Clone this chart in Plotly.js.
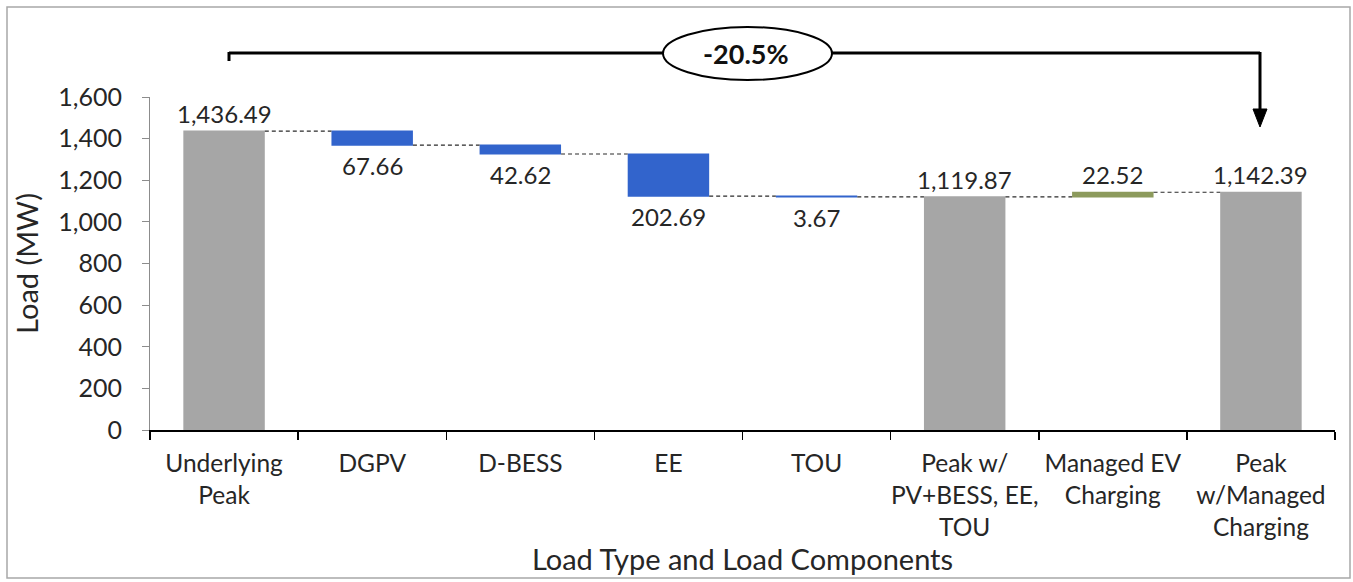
<!DOCTYPE html>
<html>
<head>
<meta charset="utf-8">
<script src="https://cdn.plot.ly/plotly-3.0.1.min.js"></script>
<style>html,body{margin:0;padding:0;background:#fff;}#chart{width:1353px;height:582px;}</style>
</head>
<body>
<div id="chart"></div>
<script>
// ---- data ----
const categories = ["Underlying<br>Peak", "DGPV", "D-BESS", "EE", "TOU", "Peak w/<br>PV+BESS, EE,<br>TOU", "Managed EV<br>Charging", "Peak<br>w/Managed<br>Charging"];
const measures = ["absolute", "relative", "relative", "relative", "relative", "absolute", "relative", "absolute"];
const values = [1436.49, -67.66, -42.62, -202.69, -3.67, 1119.87, 22.52, 1142.39];
const yTicks = [0, 200, 400, 600, 800, 1000, 1200, 1400, 1600];
const changeLabel = "-20.5%";

const FONT = "Lato, 'Open Sans', sans-serif";
const TXT = "#262626";

function fmt(v) {
  return Math.abs(v).toLocaleString('en-US', {minimumFractionDigits: 2, maximumFractionDigits: 2});
}

// labels computed from the running level of the waterfall
const annotations = [];
let level = 0;
values.forEach((v, i) => {
  if (measures[i] === 'absolute') level = v; else level += v;
  const below = measures[i] === 'relative' && v < 0;
  annotations.push({
    x: categories[i], y: level, xref: 'x', yref: 'y',
    text: fmt(v), showarrow: false,
    yanchor: below ? 'top' : 'bottom',
    yshift: below ? -4 : 1,
    font: {family: FONT, size: 24, color: TXT}
  });
});
annotations.push({
  xref: 'paper', yref: 'paper', x: 0.503, y: 1.132,
  text: '<b>' + changeLabel + '</b>', showarrow: false,
  xanchor: 'center', yanchor: 'middle',
  font: {family: FONT, size: 27, color: '#111'}
});

const trace = {
  type: 'waterfall',
  x: categories,
  y: values,
  measure: measures,
  width: 0.55,
  textinfo: 'none',
  hoverinfo: 'skip',
  decreasing: {marker: {color: '#3264cc'}},
  increasing: {marker: {color: '#8c9a5c'}},
  totals: {marker: {color: '#a6a6a6'}},
  connector: {mode: 'between', line: {color: '#2a2a2a', width: 1.2, dash: '4px,3px'}}
};

const px = (p) => (p - 150) / 1185;
const py = (p) => (430 - p) / 333;

const shapes = [
  // outer frame
  {type: 'rect', xref: 'paper', yref: 'paper', x0: px(7), x1: px(1350), y0: py(578), y1: py(7),
   line: {color: '#a8a8a8', width: 1.5}, fillcolor: 'rgba(0,0,0,0)', layer: 'below'},
  // bracket
  {type: 'line', xref: 'paper', yref: 'paper', x0: px(229), x1: px(1260), y0: py(53), y1: py(53),
   line: {color: '#000', width: 3}},
  {type: 'line', xref: 'paper', yref: 'paper', x0: px(229), x1: px(229), y0: py(52), y1: py(61),
   line: {color: '#000', width: 3}},
  {type: 'line', xref: 'paper', yref: 'paper', x0: px(1260), x1: px(1260), y0: py(52), y1: py(112),
   line: {color: '#000', width: 3}},
  {type: 'path', xref: 'paper', yref: 'paper',
   path: 'M ' + px(1253) + ' ' + py(109) + ' L ' + px(1267) + ' ' + py(109) + ' L ' + px(1260) + ' ' + py(127) + ' Z',
   fillcolor: '#000', line: {color: '#000', width: 1}},
  // ellipse
  {type: 'circle', xref: 'paper', yref: 'paper', x0: px(663), x1: px(832), y0: py(80), y1: py(27),
   line: {color: '#000', width: 2}, fillcolor: '#fff'}
];

const layout = {
  width: 1353, height: 582,
  margin: {l: 150, r: 18, t: 97, b: 152},
  paper_bgcolor: '#fff', plot_bgcolor: '#fff',
  showlegend: false,
  font: {family: FONT, color: TXT},
  xaxis: {
    type: 'category',
    tickangle: 0,
    tickson: 'boundaries', ticks: 'outside', ticklen: 8, tickwidth: 1.5, tickcolor: '#000',
    showline: true, linecolor: '#000', linewidth: 2,
    showgrid: false, zeroline: false,
    tickfont: {family: FONT, size: 24.5, color: TXT},
    ticklabelstandoff: 11,
    title: {text: 'Load Type and Load Components', font: {family: FONT, size: 29, color: TXT}, standoff: 8},
    automargin: false,
    fixedrange: true
  },
  yaxis: {
    range: [0, 1600],
    tickvals: yTicks, tickformat: ',',
    ticks: 'outside', ticklen: 7, tickcolor: '#8c8c8c',
    showline: true, linecolor: '#8c8c8c', linewidth: 1,
    showgrid: false, zeroline: false,
    tickfont: {family: FONT, size: 25, color: TXT},
    ticklabelstandoff: 15,
    title: {text: 'Load (MW)', font: {family: FONT, size: 29, color: TXT}, standoff: 11},
    automargin: false,
    fixedrange: true
  },
  annotations: annotations,
  shapes: shapes
};

Plotly.newPlot('chart', [trace], layout, {displayModeBar: false, staticPlot: true});
</script>
</body>
</html>
